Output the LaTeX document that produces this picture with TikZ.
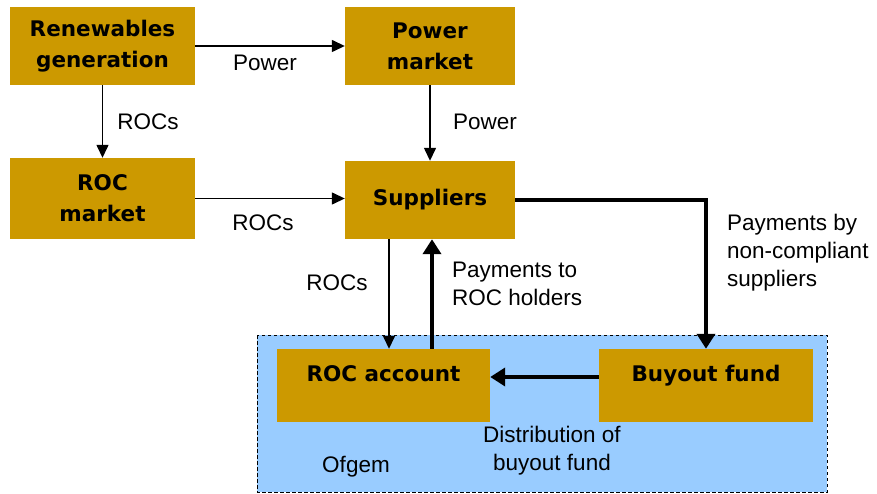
\documentclass[tikz,border=0pt]{standalone}
\usepackage{fontspec}
\setmainfont{Liberation Sans}
\newfontfamily\boxfont{DejaVu Sans}
\usetikzlibrary{arrows.meta}
\definecolor{gold}{HTML}{CC9900}
\definecolor{ofblue}{HTML}{99CCFF}
\begin{document}
\begin{tikzpicture}[x=1pt,y=1pt,
  box/.style={rectangle, fill=gold, draw=none, align=center, inner sep=0pt,
    font=\boxfont\bfseries\fontsize{21.5}{31}\selectfont},
  lbl/.style={align=center, inner sep=0pt, font=\fontsize{22.5}{28}\selectfont},
  thin/.style={line width=1.4pt, -{Triangle[length=13pt,width=12pt]}},
  thick/.style={line width=4.4pt, -{Triangle[length=15pt,width=18pt]}}]
\useasboundingbox (0,0) rectangle (877,-494);
% Ofgem area
\draw[fill=ofblue, line width=0.9pt, dash pattern=on 3.5pt off 2.5pt] (257,-335) rectangle (827,-492);
% boxes
\node[box, minimum width=185, minimum height=78] (ren) at (102.5,-46) {Renewables\\generation};
\node[box, minimum width=170, minimum height=78] (pow) at (430,-46) {Power\\market};
\node[box, minimum width=185, minimum height=81] (rocm) at (102.5,-198.5) {ROC\\market};
\node[box, minimum width=170, minimum height=78] (sup) at (430,-200) {\raisebox{6pt}{Suppliers}};
\node[box, minimum width=213, minimum height=73] (roca) at (383.5,-385.5) {\raisebox{24pt}{ROC account}};
\node[box, minimum width=214, minimum height=73] (buy) at (706,-385.5) {\raisebox{24pt}{Buyout fund}};
% connectors
\draw[thin] (ren.east) -- (pow.west);
\draw[thin] (ren.south) -- (rocm.north);
\draw[thin] (pow.south) -- (sup.north);
\draw[thin] (rocm.east) -- (sup.west |- rocm.east);
\draw[thin] (sup.south -| 389,0) -- (roca.north -| 389,0);
\draw[thick] (roca.north -| 432,0) -- (sup.south -| 432,0);
\draw[thick] (sup.east) -| (buy.north);
\draw[thick] (buy.west |- 0,-377) -- (roca.east |- 0,-377);
% labels
\node[lbl] (l1) at (265,-63) {Power};
\node[lbl] (l2) at (148,-122) {ROCs};
\node[lbl] (l3) at (485,-122) {Power};
\node[lbl] (l4) at (263,-223) {ROCs};
\node[lbl] (l5) at (337,-283) {ROCs};
\node[lbl, align=left, anchor=west] (l6) at (452,-284) {Payments to\\ROC holders};
\node[lbl, align=left, anchor=west] (l7) at (727,-253) {Payments by\\non-compliant\\suppliers};
\node[lbl] (l8) at (552,-451) {Distribution of\\buyout fund};
\node[lbl] (l9) at (356,-467) {Ofgem};
\end{tikzpicture}
\end{document}
